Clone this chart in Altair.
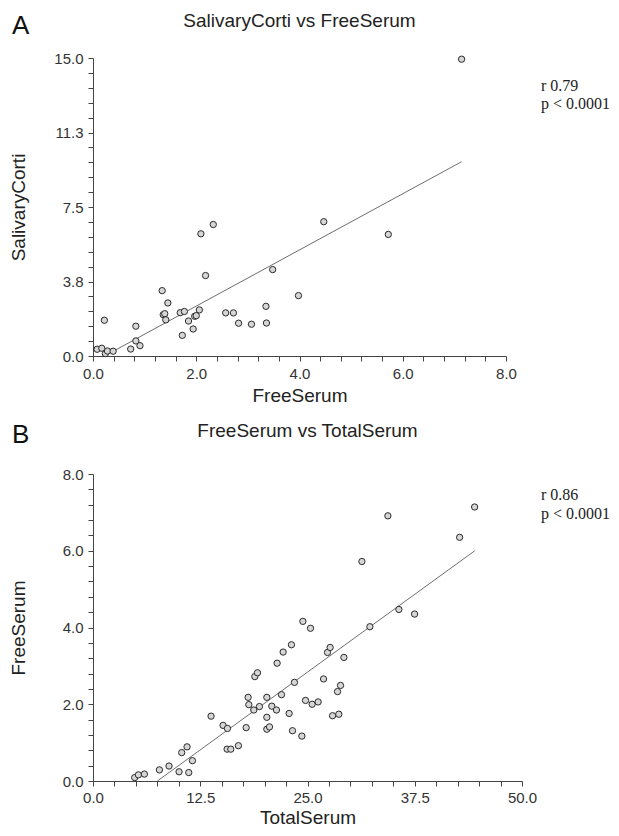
import altair as alt
import pandas as pd

# ---------------- data ----------------
# Panel A: SalivaryCorti vs FreeSerum
a_free = [7.14, 0.08, 0.17, 0.24, 0.28, 0.39, 0.22, 0.73, 0.83, 0.83, 0.91, 1.34, 1.36,
          1.39, 1.41, 1.45, 1.69, 1.77, 1.73, 1.85, 1.94, 1.97, 2.00, 2.06, 2.09, 2.18,
          2.33, 2.57, 2.72, 2.82, 3.07, 3.35, 3.36, 3.48, 3.98, 4.47, 5.72]
a_saliv = [14.94, 0.34, 0.39, 0.12, 0.25, 0.24, 1.80, 0.35, 1.50, 0.76, 0.52, 3.29, 2.08,
           2.13, 1.82, 2.67, 2.18, 2.24, 1.04, 1.76, 1.36, 2.00, 2.03, 2.32, 6.15, 4.05,
           6.62, 2.17, 2.17, 1.65, 1.60, 2.50, 1.66, 4.35, 3.04, 6.76, 6.12]
a_fit_x = [0.40, 7.14]
a_fit_y = [0.25, 9.78]

# Panel B: FreeSerum vs TotalSerum
b_total = [4.86, 5.29, 5.99, 7.74, 8.86, 10.03, 10.34, 10.96, 11.16, 11.59, 13.76, 15.16,
           15.67, 15.63, 16.06, 16.95, 17.85, 18.08, 18.16, 18.74, 18.86, 19.17, 19.40,
           20.26, 20.26, 20.26, 20.57, 20.84, 21.38, 21.46, 21.97, 22.16, 22.86, 23.13,
           23.25, 23.48, 24.34, 24.46, 24.77, 25.35, 25.54, 26.24, 26.87, 27.33, 27.64,
           27.92, 28.50, 28.65, 28.85, 29.24, 31.34, 32.27, 34.37, 35.65, 37.48, 42.73, 44.48]
b_free = [0.09, 0.16, 0.18, 0.29, 0.39, 0.24, 0.74, 0.89, 0.22, 0.53, 1.69, 1.45,
          1.37, 0.83, 0.83, 0.92, 1.39, 2.18, 1.99, 1.85, 2.72, 2.82, 1.94,
          2.18, 1.66, 1.35, 1.41, 1.95, 1.85, 3.07, 2.25, 3.36, 1.76, 3.55,
          1.31, 2.57, 1.17, 4.16, 2.10, 3.98, 2.00, 2.06, 2.66, 3.35, 3.48,
          1.70, 2.33, 1.74, 2.49, 3.22, 5.72, 4.02, 6.91, 4.47, 4.35, 6.35, 7.14]
b_fit_x = [7.5, 44.5]
b_fit_y = [0.0, 6.0]

a_ticks_x = [round(0.4 * i, 4) for i in range(21)]
a_ticks_y = [round(0.75 * i, 4) for i in range(21)]
b_ticks_x = [round(2.5 * i, 4) for i in range(21)]
b_ticks_y = [round(0.4 * i, 4) for i in range(21)]

SANS = "Liberation Sans"
SERIF = "Liberation Serif"
DARK = "#333333"


def label_expr(step):
    return (f"abs(datum.value/{step} - round(datum.value/{step})) < 0.0001 "
            f"? format(datum.value, '.1f') : ''")


def axis(title, ticks, step, orient, title_pos, label_pad=5):
    kw = dict(
        title=title, values=ticks, labelExpr=label_expr(step), tickSize=5,
        labelPadding=label_pad, labelFontSize=15, labelFont=SANS, labelColor=DARK,
        domainColor="#444444", tickColor="#444444", grid=False,
        titleFontSize=19, titleFont=SANS, titleFontWeight="normal", titleColor="#222222",
        labelFlush=False, labelOverlap=False, titleBaseline="alphabetic",
    )
    if orient == "x":
        kw["titleY"] = title_pos
    else:
        kw["titleX"] = title_pos
    return alt.Axis(**kw)


def panel(xs, ys, fx, fy, xname, yname, xdom, ydom, xt, yt, xstep, ystep,
          ttl, letter, ann, w, h, xtitle_y, title_y, letter_y, ann_x, ann_y, xlab_pad):
    df = pd.DataFrame({xname: xs, yname: ys})
    fit = pd.DataFrame({xname: fx, yname: fy})
    xenc = alt.X(f"{xname}:Q", scale=alt.Scale(domain=xdom, nice=False, zero=False),
                 axis=axis(xname, xt, xstep, "x", xtitle_y, xlab_pad))
    yenc = alt.Y(f"{yname}:Q", scale=alt.Scale(domain=ydom, nice=False, zero=False),
                 axis=axis(yname, yt, ystep, "y", -69))
    line = alt.Chart(fit).mark_line(color="#6e6e6e", strokeWidth=1, clip=True).encode(
        x=xenc, y=yenc)
    pts = alt.Chart(df).mark_point(shape="circle", filled=False, fill="#d6d6d6",
                                   fillOpacity=1, stroke="#2a2a2a", strokeWidth=1,
                                   opacity=1, size=40).encode(x=xenc, y=yenc)
    one = alt.Data(values=[{}])
    ttl_mark = alt.Chart(one).mark_text(align="center", baseline="alphabetic", fontSize=19,
                                        font=SANS, color="#222222").encode(
        x=alt.value(w / 2), y=alt.value(title_y), text=alt.value(ttl))
    let = alt.Chart(one).mark_text(align="left", baseline="alphabetic", fontSize=26,
                                   font=SANS, color="#111111").encode(
        x=alt.value(-81), y=alt.value(letter_y), text=alt.value(letter))
    an = alt.Chart(one).mark_text(align="left", baseline="alphabetic", fontSize=16,
                                  font=SERIF, color="#222222", lineHeight=18.5).encode(
        x=alt.value(ann_x), y=alt.value(ann_y), text=alt.value(ann))
    return alt.layer(line, pts, ttl_mark, let, an).properties(width=w, height=h)


pa = panel(a_free, a_saliv, a_fit_x, a_fit_y, "FreeSerum", "SalivaryCorti",
           [0, 8], [0, 15], a_ticks_x, a_ticks_y, 2, 3.75,
           "SalivaryCorti vs FreeSerum", "A", ["r 0.79", "p < 0.0001"],
           413, 298, 45.5, -31.4, -24, 448, 32.6, 5)
pb = panel(b_total, b_free, b_fit_x, b_fit_y, "TotalSerum", "FreeSerum",
           [0, 50], [0, 8], b_ticks_x, b_ticks_y, 12.5, 2,
           "FreeSerum vs TotalSerum", "B", ["r 0.86", "p < 0.0001"],
           429, 307, 42, -37, -31, 448, 26, 4)

chart = alt.vconcat(pa, pb, spacing=16).properties(
    padding={"left": 1, "top": 3, "right": 0, "bottom": 0},
    background="white",
).configure_view(stroke=None)

chart.save("out.html", embed_options={"renderer": "svg", "actions": False})
